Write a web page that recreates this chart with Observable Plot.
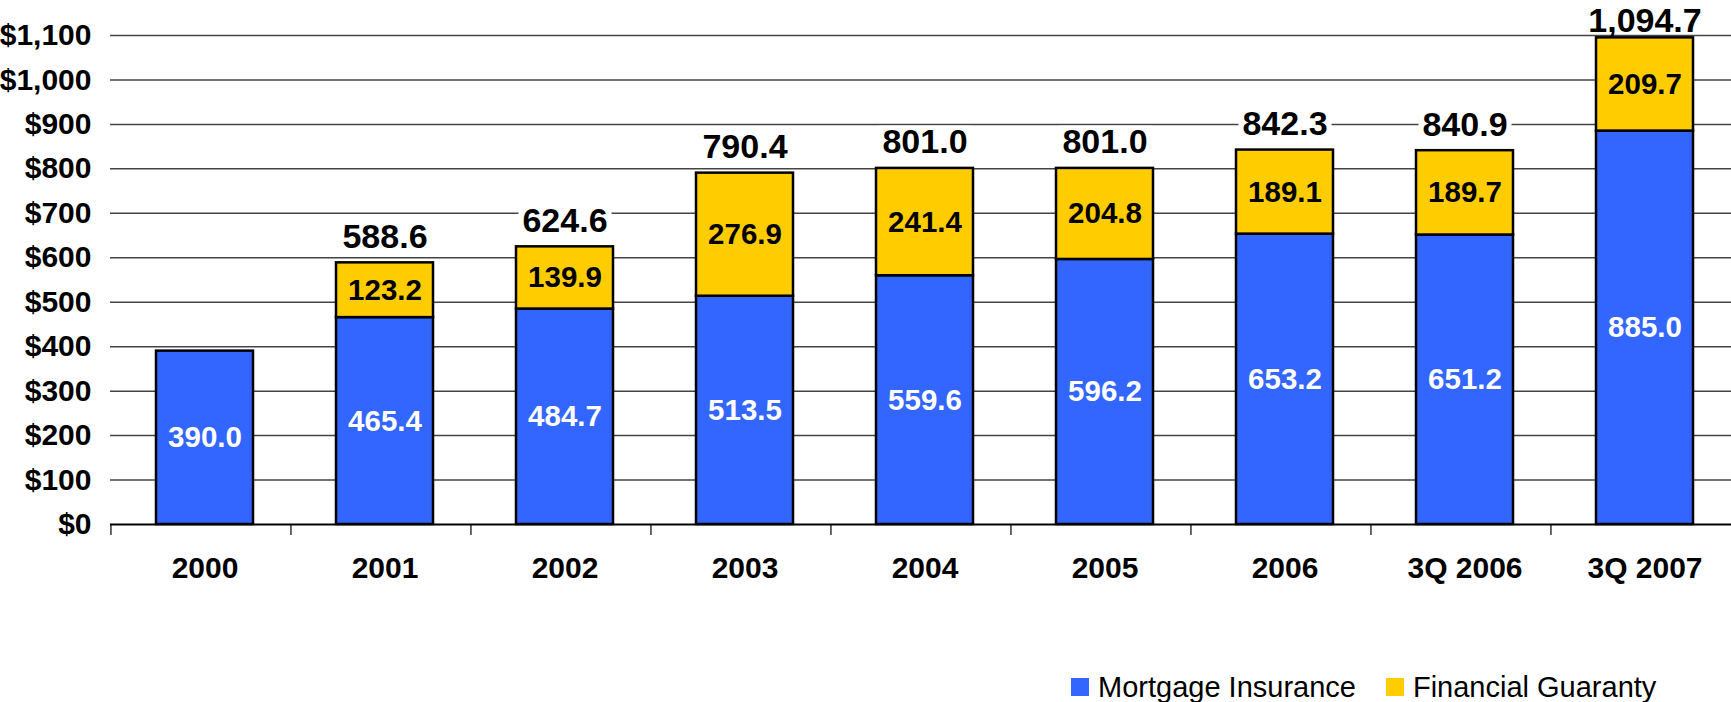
<!DOCTYPE html>
<html>
<head>
<meta charset="utf-8">
<script src="https://cdn.jsdelivr.net/npm/d3@7"></script>
<script src="https://cdn.jsdelivr.net/npm/@observablehq/plot@0.6"></script>
<style>
  body { margin: 0; background: #fff; font-family: "Liberation Sans", Arial, sans-serif; }
  #wrap { position: relative; width: 1731px; height: 702px; overflow: hidden; }
  #legend { position: absolute; top: 670px; left: 1071px; display: flex; align-items: center;
            font-size: 29px; line-height: 34px; color: #000; white-space: nowrap; }
  .sw { width: 18px; height: 18px; display: inline-block; margin-right: 9px; }
  .item { display: flex; align-items: center; margin-right: 30px; }
</style>
</head>
<body>
<div id="wrap">
  <div id="chart"></div>
  <div id="legend"></div>
</div>
<script>
const categories = ["2000", "2001", "2002", "2003", "2004", "2005", "2006", "3Q 2006", "3Q 2007"];
const mortgageInsurance = [390.0, 465.4, 484.7, 513.5, 559.6, 596.2, 653.2, 651.2, 885.0];
const financialGuaranty = [0, 123.2, 139.9, 276.9, 241.4, 204.8, 189.1, 189.7, 209.7];
const totals = [null, 588.6, 624.6, 790.4, 801.0, 801.0, 842.3, 840.9, 1094.7];
const yTicks = [0, 100, 200, 300, 400, 500, 600, 700, 800, 900, 1000, 1100];
const seriesNames = ["Mortgage Insurance", "Financial Guaranty"];
const seriesColors = ["#3366FF", "#FFCC00"];

const W = 1731, H = 670, ML = 110, MR = 0, MT = 35, MB = 146;
const step = (W - ML - MR) / categories.length;
const shift = 4;
const totalFont = 34;

const rows = [];
categories.forEach((c, i) => {
  rows.push({cat: c, series: seriesNames[0], value: mortgageInsurance[i]});
  if (financialGuaranty[i] > 0) rows.push({cat: c, series: seriesNames[1], value: financialGuaranty[i]});
});
const totalRows = categories.map((c, i) => ({cat: c, total: totals[i]})).filter(d => d.total != null);
const yMax = 1100;
const totalsLow = totalRows.filter(d => d.total < yMax - 50);
const totalsHigh = totalRows.filter(d => d.total >= yMax - 50);

const totalStyle = {x: "cat", y: "total", text: d => d3.format(",.1f")(d.total), dx: shift,
  fontSize: totalFont, fontWeight: "bold", fill: "#000", className: "totals"};

const chart = Plot.plot({
  width: W, height: H,
  marginLeft: ML, marginRight: MR, marginTop: MT, marginBottom: MB,
  style: {fontFamily: "'Liberation Sans', Arial, sans-serif", background: "white", overflow: "visible"},
  x: {domain: categories, paddingInner: 0.46, paddingOuter: 0.23, label: null},
  y: {domain: [0, yMax], label: null},
  color: {domain: seriesNames, range: seriesColors},
  marks: [
    Plot.ruleY(yTicks.filter(t => t > 0), {y: d => d, stroke: "#444", strokeWidth: 1.5}),
    Plot.axisY({ticks: yTicks, tickSize: 0, tickPadding: 19, fontSize: 30, fontWeight: "bold",
      tickFormat: d => "$" + d3.format(",")(d), label: null, fill: "#000"}),
    Plot.axisX({tickSize: 11, dx: -step / 2, tickFormat: () => "", label: null, stroke: "#333", strokeWidth: 1.5}),
    Plot.axisX({tickSize: 0, tickPadding: 32, dx: shift, fontSize: 30, fontWeight: "bold", label: null, fill: "#000"}),
    Plot.ruleY([0], {stroke: "#000", strokeWidth: 2}),
    Plot.barY(rows, {x: "cat", y: "value", fill: "series", z: "series", dx: shift, stroke: "#000", strokeWidth: 2.5}),
    Plot.text(rows, Plot.stackY({x: "cat", y: "value", z: "series", dx: shift,
      text: d => d.value.toFixed(1),
      fill: d => d.series === seriesNames[0] ? "#fff" : "#000",
      fontSize: 29.5, fontWeight: "bold"})),
    Plot.text(totalsLow, {...totalStyle, dy: -26}),
    Plot.text(totalsHigh, {...totalStyle, dy: -17})
  ]
});
document.getElementById("chart").appendChild(chart);

// white box behind each total label (hides the gridlines behind it)
chart.querySelectorAll("g.totals text").forEach(t => {
  const b = t.getBBox();
  const r = document.createElementNS("http://www.w3.org/2000/svg", "rect");
  r.setAttribute("x", b.x - 4);
  r.setAttribute("width", b.width + 8);
  r.setAttribute("y", b.y + 0.1 * totalFont);
  r.setAttribute("height", 0.88 * totalFont);
  r.setAttribute("fill", "#fff");
  const tr = t.getAttribute("transform");
  if (tr) r.setAttribute("transform", tr);
  t.parentNode.insertBefore(r, t);
});

const legend = document.getElementById("legend");
seriesNames.forEach((name, i) => {
  const item = document.createElement("div");
  item.className = "item";
  const sw = document.createElement("span");
  sw.className = "sw";
  sw.style.background = seriesColors[i];
  const t = document.createElement("span");
  t.textContent = name;
  item.appendChild(sw);
  item.appendChild(t);
  legend.appendChild(item);
});
</script>
</body>
</html>
